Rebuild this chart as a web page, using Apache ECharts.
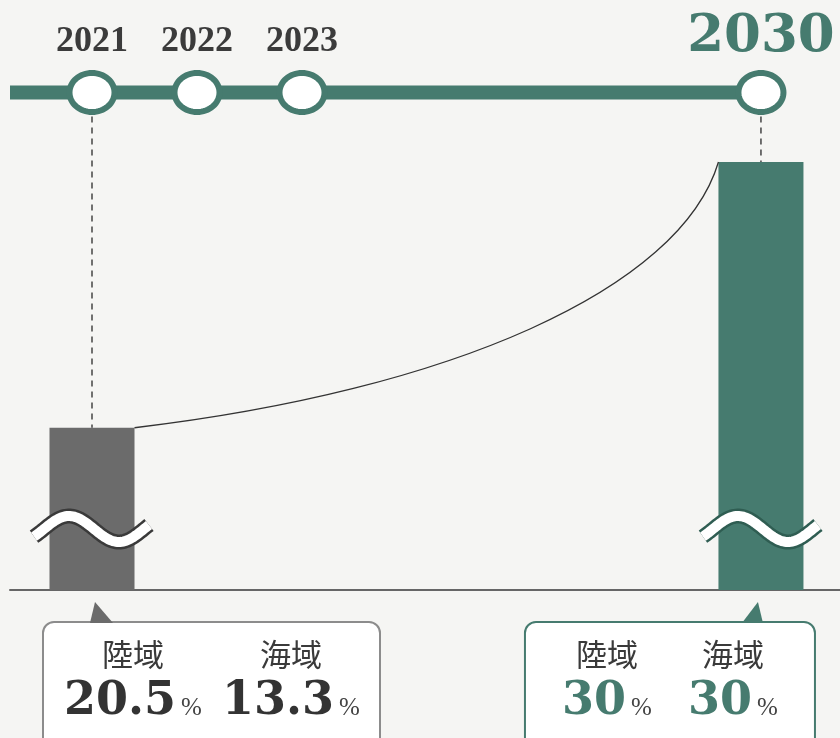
<!DOCTYPE html>
<html><head><meta charset="utf-8">
<script src="https://cdn.jsdelivr.net/npm/echarts@6/dist/echarts.min.js"></script>
<style>html,body{margin:0;padding:0;background:#f5f5f3}#c{width:840px;height:738px}</style>
</head><body><div id="c"></div>
<script>
// ---- data ----
const years = [2021, 2022, 2023, 2030];
const yearLabels = ['2021', '2022', '2023', '2030'];
const barYears = [2021, 2030];
const landShare = [20.5, 30];   // 陸域 %
const seaShare = [13.3, 30];    // 海域 %
const regionLabels = ['陸域', '海域'];

// ---- style ----
const GREEN = '#467b6f', GRAY = '#6b6b6b';
const barColors = [GRAY, GREEN];
const waveOutline = ['#3a3a3a', '#2f5d52'];
const BAR_W = 85;
const SERIF = '"Liberation Serif", "DejaVu Serif", serif';
const DSERIF = '"DejaVu Serif", "Liberation Serif", serif';
const CJK = '"Noto Sans CJK JP", "Noto Sans CJK SC", sans-serif';
const callouts = [
  {left: -49, width: 337, cols: [90, 248], pointer: [[3, -20], [-2, 1], [21, 1]], border: '#8c8c8c', fill: GRAY, valueColor: '#333'},
  {left: -236, width: 290, cols: [82, 208], pointer: [[-3, -20], [-19, 1], [2, 1]], border: GREEN, fill: GREEN, valueColor: GREEN}
];

// broken time axis: 2021-2023 one slot per year, 2023-2030 compressed
function slot(y) { return y <= 2023 ? y - 2021 : 2 + (y - 2023) * (4.371 / 7); }
const xMin = -(92 - 10) / 105, xMax = (840 - 92) / 105;
const NODE_OFFSET = 69.5; // timeline sits above the plot area

function nodeY(cs) { return cs.y - NODE_OFFSET; }

function ellipsePts(cx, cy, rx, ry) {
  const pts = [];
  for (let k = 0; k < 64; k++) {
    const a = 2 * Math.PI * k / 64;
    pts.push([cx + rx * Math.cos(a), cy + ry * Math.sin(a)]);
  }
  return pts;
}

const chart = echarts.init(document.getElementById('c'));
chart.setOption({
  backgroundColor: '#f5f5f3',
  animation: false,
  grid: {left: 10, right: 0, top: 162, bottom: 148, containLabel: false, outerBoundsMode: 'none'},
  xAxis: {
    type: 'value', min: xMin, max: xMax,
    axisLine: {show: true, onZero: false, lineStyle: {color: '#666', width: 2}},
    axisTick: {show: false}, axisLabel: {show: false}, splitLine: {show: false}
  },
  yAxis: {type: 'value', min: 14.7, max: 30, show: false, splitLine: {show: false}},
  series: [
    {
      type: 'bar', z: 2, clip: true, barWidth: BAR_W,
      data: barYears.map((y, i) => ({value: [slot(y), landShare[i]], itemStyle: {color: barColors[i]}}))
    },
    { // connecting curve
      type: 'custom', z: 3,
      data: [[slot(barYears[0]), landShare[0], slot(barYears[1]), landShare[1]]],
      renderItem: function (params, api) {
        const p0 = api.coord([api.value(0), api.value(1)]);
        const p1 = api.coord([api.value(2), api.value(3)]);
        p0[0] += BAR_W / 2; p1[0] -= BAR_W / 2;
        const dx = p1[0] - p0[0], dy = p1[1] - p0[1];
        return {
          type: 'bezierCurve',
          shape: {x1: p0[0], y1: p0[1], x2: p1[0], y2: p1[1],
            cpx1: p0[0] + 0.54 * dx, cpy1: p0[1] + 0.14 * dy,
            cpx2: p1[0] - 0.065 * dx, cpy2: p1[1] - 0.48 * dy},
          style: {stroke: '#333', lineWidth: 1.3, fill: null}
        };
      }
    },
    { // per-bar overlay: dashed guide, wave break, callout
      type: 'custom', z: 3,
      data: barYears.map((y, i) => [slot(y), landShare[i], seaShare[i], i]),
      renderItem: function (params, api) {
        const cs = params.coordSys;
        const j = api.value(3);
        const land = api.value(1), sea = api.value(2);
        const top = api.coord([api.value(0), land]);
        const cx = top[0];
        const base = cs.y + cs.height;
        const ny = nodeY(cs);
        const ch = [];
        ch.push({type: 'line', shape: {x1: cx, y1: ny + 24, x2: cx, y2: top[1]},
          style: {stroke: '#444', lineWidth: 1.5, lineDash: [6, 5]}});
        // wave break
        const wy = base - 61;
        const pts = [];
        for (let k = 0; k <= 80; k++) {
          const dx = -58 + 115 * k / 80;
          pts.push([cx + dx, wy - 13 * Math.sin(2 * Math.PI * (dx + 48) / 100)]);
        }
        ch.push({type: 'polyline', shape: {points: pts}, style: {stroke: waveOutline[j], lineWidth: 15, lineCap: 'butt', fill: null}});
        ch.push({type: 'polyline', shape: {points: pts}, style: {stroke: '#ffffff', lineWidth: 10, lineCap: 'butt', fill: null}});
        // callout
        const cfg = callouts[j];
        const boxTop = base + 32;
        const bx = cx + cfg.left;
        ch.push({type: 'rect', shape: {x: bx, y: boxTop, width: cfg.width, height: 160, r: 11},
          style: {fill: '#ffffff', stroke: cfg.border, lineWidth: 2}});
        ch.push({type: 'polygon', shape: {points: cfg.pointer.map(p => [cx + p[0], boxTop + p[1]])},
          style: {fill: cfg.fill}});
        const vals = [land, sea];
        cfg.cols.forEach((c, k) => {
          ch.push({type: 'text', x: bx + c, y: boxTop + 32,
            style: {text: regionLabels[k], font: '31px ' + CJK, fill: '#3a3a3a', align: 'center', verticalAlign: 'middle'}});
          ch.push({type: 'text', x: bx + c, y: boxTop + 80,
            style: {text: '{v|' + vals[k] + '}{p|%}', align: 'center', verticalAlign: 'middle',
              rich: {
                v: {fontFamily: DSERIF, fontWeight: 'bold', fontSize: 46, fill: cfg.valueColor, verticalAlign: 'bottom'},
                p: {fontFamily: SERIF, fontSize: 25, fill: '#444', verticalAlign: 'bottom', padding: [0, 0, 4, 5]}
              }}});
        });
        return {type: 'group', children: ch};
      }
    },
    { // timeline track
      type: 'custom', z: 4,
      data: [[slot(years[0]), 0, slot(years[years.length - 1])]],
      renderItem: function (params, api) {
        const cs = params.coordSys;
        const ny = nodeY(cs);
        const x2 = api.coord([api.value(2), 20])[0];
        return {type: 'line', shape: {x1: cs.x, y1: ny, x2: x2, y2: ny},
          style: {stroke: GREEN, lineWidth: 14, lineCap: 'butt'}};
      }
    },
    { // timeline nodes + year labels
      type: 'custom', z: 5,
      data: years.map((y, i) => [slot(y), i]),
      renderItem: function (params, api) {
        const cs = params.coordSys;
        const ny = nodeY(cs);
        const i = api.value(1);
        const nx = api.coord([api.value(0), 20])[0];
        const last = i === years.length - 1;
        return {type: 'group', children: [
          {type: 'polygon', shape: {points: ellipsePts(nx, ny, 22.5, 19.5)},
            style: {fill: '#ffffff', stroke: GREEN, lineWidth: 6}},
          {type: 'text', x: nx, y: last ? ny - 55 : ny - 51,
            style: {text: yearLabels[i], align: 'center', verticalAlign: 'middle',
              font: last ? 'bold 53px ' + DSERIF : 'bold 36px ' + SERIF,
              fill: last ? GREEN : '#3b3b3b'}}
        ]};
      }
    }
  ]
});
</script>
</body></html>
